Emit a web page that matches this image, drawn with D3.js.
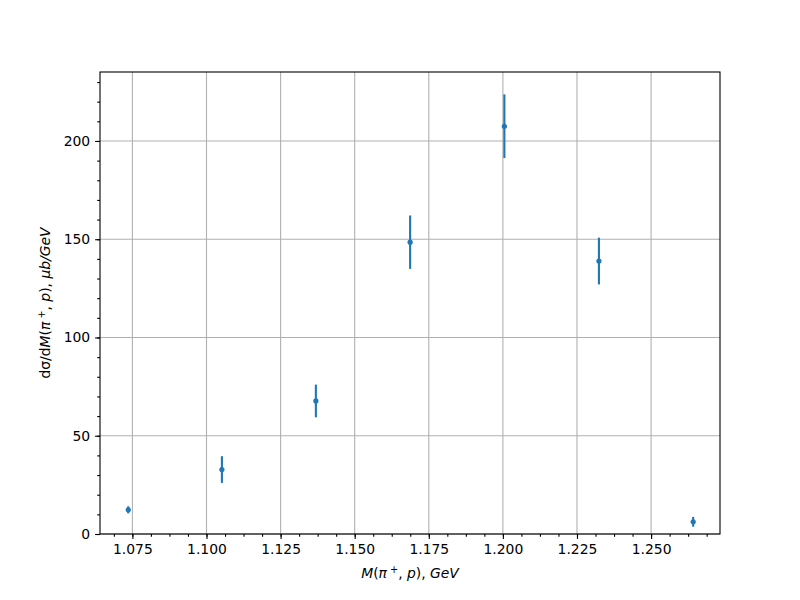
<!DOCTYPE html>
<html>
<head>
<meta charset="utf-8">
<script src="https://cdn.jsdelivr.net/npm/d3@7"></script>
<style>
  body { margin: 0; background: #fff; }
  svg { display: block; font-family: "DejaVu Sans", sans-serif; }
</style>
</head>
<body>
<svg id="chart" width="800" height="600"></svg>
<script>
const massValues = [1.0736, 1.1052, 1.1369, 1.1687, 1.2005, 1.2324, 1.2642];
const crossSection = [12.3, 32.8, 67.7, 148.5, 207.5, 138.9, 6.2];
const crossSectionErr = [1.8, 6.8, 8.3, 13.6, 16.2, 11.9, 2.5];
const xTicks = [1.075, 1.100, 1.125, 1.150, 1.175, 1.200, 1.225, 1.250];
const yTicks = [0, 50, 100, 150, 200];

const W = 800, H = 600;
const m = { left: 100, right: 720, top: 72, bottom: 534 };
const svg = d3.select("#chart");
svg.append("rect").attr("width", W).attr("height", H).attr("fill", "#fff");

const x = d3.scaleLinear().domain([1.06407, 1.27325]).range([m.left, m.right]);
const y = d3.scaleLinear().domain([0, 235.1]).range([m.bottom, m.top]);

const color = "#1f77b4";
const grid = svg.append("g");
xTicks.forEach(t => {
  grid.append("line").attr("x1", x(t)).attr("x2", x(t)).attr("y1", m.top).attr("y2", m.bottom)
    .attr("stroke", "#b0b0b0").attr("stroke-width", 1.1);
});
yTicks.forEach(t => {
  grid.append("line").attr("y1", y(t)).attr("y2", y(t)).attr("x1", m.left).attr("x2", m.right)
    .attr("stroke", "#b0b0b0").attr("stroke-width", 1.1);
});

// minor ticks
const xMinor = d3.range(1.06875, 1.2733, 0.00625).filter(v => x(v) >= m.left && x(v) <= m.right);
const yMinor = d3.range(0, 236, 10);

const xAxis = d3.axisBottom(x).tickValues(xTicks).tickFormat(d3.format(".3f")).tickSize(4.9).tickPadding(4.9);
const xMinorAxis = d3.axisBottom(x).tickValues(xMinor).tickFormat("").tickSize(2.8);
const yAxis = d3.axisLeft(y).tickValues(yTicks).tickFormat(d3.format("d")).tickSize(4.9).tickPadding(4.9);
const yMinorAxis = d3.axisLeft(y).tickValues(yMinor).tickFormat("").tickSize(2.8);

function styleAxis(g) {
  g.select(".domain").remove();
  g.selectAll("line").attr("stroke", "#000").attr("stroke-width", 1.1);
  g.selectAll("text").attr("font-size", "13.9px").attr("fill", "#000").attr("font-family", "DejaVu Sans, sans-serif");
}
svg.append("g").attr("transform", `translate(0,${m.bottom})`).call(xMinorAxis).call(styleAxis);
svg.append("g").attr("transform", `translate(0,${m.bottom})`).call(xAxis).call(styleAxis);
svg.append("g").attr("transform", `translate(${m.left},0)`).call(yMinorAxis).call(styleAxis);
svg.append("g").attr("transform", `translate(${m.left},0)`).call(yAxis).call(styleAxis);

// data
const pts = massValues.map((v, i) => ({ x: v, y: crossSection[i], e: crossSectionErr[i] }));
const data = svg.append("g");
data.selectAll("line.err").data(pts).enter().append("line")
  .attr("x1", d => x(d.x)).attr("x2", d => x(d.x))
  .attr("y1", d => y(d.y - d.e)).attr("y2", d => y(d.y + d.e))
  .attr("stroke", color).attr("stroke-width", 2.1);
data.selectAll("circle").data(pts).enter().append("circle")
  .attr("cx", d => x(d.x)).attr("cy", d => y(d.y)).attr("r", 2.6).attr("fill", color);

// frame
svg.append("rect").attr("x", m.left).attr("y", m.top).attr("width", m.right - m.left).attr("height", m.bottom - m.top)
  .attr("fill", "none").attr("stroke", "#000").attr("stroke-width", 1.1);

// labels
const xl = svg.append("text").attr("x", (m.left + m.right) / 2).attr("y", 578).attr("text-anchor", "middle")
  .attr("font-size", "13.9px").attr("font-family", "DejaVu Sans, sans-serif");
xl.append("tspan").attr("font-style", "italic").text("M");
xl.append("tspan").text("(");
xl.append("tspan").attr("font-style", "italic").text("π");
xl.append("tspan").attr("font-size", "9.7px").attr("dy", -5).text(" +");
xl.append("tspan").attr("dy", 5).text(", ");
xl.append("tspan").attr("font-style", "italic").text("p");
xl.append("tspan").text("), ");
xl.append("tspan").attr("font-style", "italic").text("GeV");

const yl = svg.append("text").attr("transform", `translate(50,${(m.top + m.bottom) / 2}) rotate(-90)`)
  .attr("text-anchor", "middle").attr("font-size", "13.9px").attr("font-family", "DejaVu Sans, sans-serif");
yl.append("tspan").text("dσ/d");
yl.append("tspan").attr("font-style", "italic").text("M");
yl.append("tspan").text("(");
yl.append("tspan").attr("font-style", "italic").text("π");
yl.append("tspan").attr("font-size", "9.7px").attr("dy", -5).text(" +");
yl.append("tspan").attr("dy", 5).text(", ");
yl.append("tspan").attr("font-style", "italic").text("p");
yl.append("tspan").text("), ");
yl.append("tspan").attr("font-style", "italic").text("μb/GeV");
</script>
</body>
</html>
